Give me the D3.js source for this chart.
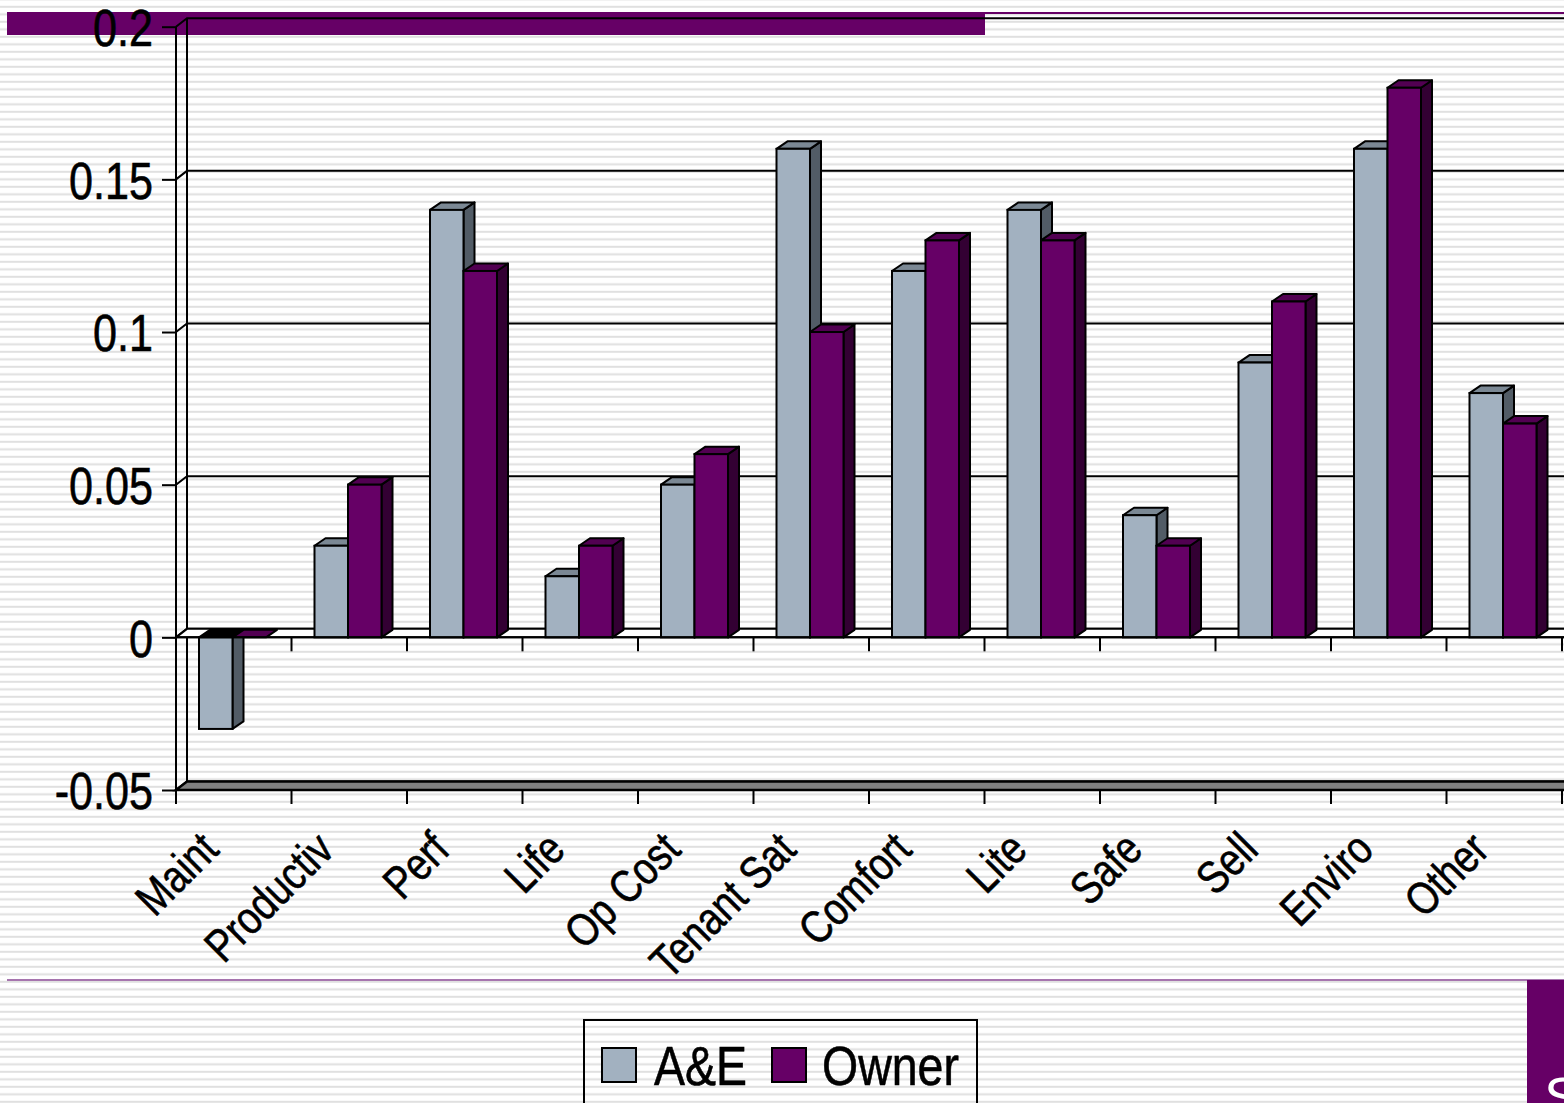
<!DOCTYPE html>
<html>
<head>
<meta charset="utf-8">
<script src="https://cdn.jsdelivr.net/npm/d3@7"></script>
<style>
  html, body { margin: 0; padding: 0; background: #fff; overflow: hidden; }
  svg { display: block; }
  text { font-family: "Liberation Sans", Arial, sans-serif; }
  text.lbl { stroke: #000; stroke-width: 0.6px; }
</style>
</head>
<body>
<svg id="chart" width="1564" height="1103"></svg>
<script>
// Weighting of design priorities: architects/engineers vs owners
const categories = ["Maint", "Productiv", "Perf", "Life", "Op Cost", "Tenant Sat",
                    "Comfort", "Lite", "Safe", "Sell", "Enviro", "Other"];
const aeValues    = [-0.03, 0.03, 0.14, 0.02, 0.05, 0.16, 0.12, 0.14, 0.04, 0.09, 0.16, 0.08];
const ownerValues = [0.00, 0.05, 0.12, 0.03, 0.06, 0.10, 0.13, 0.13, 0.03, 0.11, 0.18, 0.07];
const seriesNames = ["A&E", "Owner"];
const yTicks = [-0.05, 0, 0.05, 0.1, 0.15, 0.2];

const W = 1564, H = 1103;
const NARROW = 0.83; // horizontal squeeze giving a condensed face
const svg = d3.select("#chart");

// faint horizontal pinstripes of the slide background
const defs = svg.append("defs");
const pat = defs.append("pattern").attr("id", "stripes")
  .attr("patternUnits", "userSpaceOnUse").attr("width", 20).attr("height", 15)
  .attr("y", 0.8);
pat.append("rect").attr("width", 20).attr("height", 15).attr("fill", "#ffffff");
pat.append("rect").attr("y", 5).attr("width", 20).attr("height", 2).attr("fill", "#e0e0e0");
pat.append("rect").attr("y", 12.5).attr("width", 20).attr("height", 2).attr("fill", "#e0e0e0");
svg.append("rect").attr("width", W).attr("height", H).attr("fill", "url(#stripes)");

// slide decoration
const purple = "#660066";
svg.append("rect").attr("x", 7).attr("y", 12).attr("width", 978).attr("height", 23).attr("fill", purple);
svg.append("rect").attr("x", 985).attr("y", 12).attr("width", W - 985).attr("height", 2).attr("fill", purple);
svg.append("rect").attr("x", 7).attr("y", 979).attr("width", W - 7).attr("height", 2).attr("fill", "#a674ae");
svg.append("rect").attr("x", 1527).attr("y", 980).attr("width", W - 1527).attr("height", H - 980).attr("fill", purple);
svg.append("text").attr("x", 1544).attr("y", 1116).attr("fill", "#fff")
  .attr("font-size", 56).text("S");

// scales (front plane of the 3-D box)
const y = d3.scaleLinear().domain([-0.05, 0.2]).range([790, 26.7]);
const x = d3.scaleBand().domain(categories).range([176, 1562]).padding(0);
const wall = { dx: 11, dy: -8.5 };
const depth = { dx: 11, dy: -7.5 };
const color = {
  "A&E":   { front: "#a2b1c0", top: "#7b8894", side: "#525c66", neg: "#000000" },
  "Owner": { front: "#660066", top: "#520052", side: "#330033", neg: "#000000" }
};
const line = d3.line();
const g = svg.append("g");

// back-wall gridlines with their diagonals to the front axis
yTicks.forEach(t => {
  const yf = y(t);
  g.append("path").attr("d", line([[x.range()[0], yf], [x.range()[0] + wall.dx, yf + wall.dy], [W + 5, yf + wall.dy]]))
    .attr("fill", "none").attr("stroke", "#000").attr("stroke-width", 2);
});
// back-left wall edge
g.append("line").attr("x1", 176 + wall.dx).attr("x2", 176 + wall.dx)
  .attr("y1", y(0.2) + wall.dy).attr("y2", y(-0.05) + wall.dy)
  .attr("stroke", "#000").attr("stroke-width", 2);

// floor slab at the bottom of the value range
const yfF = y(-0.05);
g.append("path").attr("d", line([[176, yfF], [176 + wall.dx, yfF + wall.dy], [W + 5, yfF + wall.dy], [W + 5, yfF]]) + "Z")
  .attr("fill", "#808080").attr("stroke", "#000").attr("stroke-width", 2.5);

// zero plane (category axis)
const y0 = y(0);
g.append("path").attr("d", line([[176, y0], [176 + wall.dx, y0 + wall.dy], [W + 5, y0 + wall.dy], [W + 5, y0]]) + "Z")
  .attr("fill", "#ffffff").attr("stroke", "#000").attr("stroke-width", 2);

// 3-D columns
const barW = 33.5, barOff = 23;
const rows = [];
categories.forEach((c, ci) => {
  [aeValues[ci], ownerValues[ci]].forEach((v, si) => rows.push({ c, v, s: seriesNames[si], si }));
});
const bars = g.selectAll("g.bar").data(rows).join("g").attr("class", "bar");
bars.each(function (d) {
  const sel = d3.select(this);
  const col = color[d.s];
  const x0 = x(d.c) + barOff + d.si * barW, x1 = x0 + barW;
  const yT = y(Math.max(d.v, 0)), yB = y(Math.min(d.v, 0));
  const sw = 2;
  if (yB - yT > 0.5) {
    sel.append("path").attr("d", line([[x1, yT], [x1 + depth.dx, yT + depth.dy], [x1 + depth.dx, yB + depth.dy], [x1, yB]]) + "Z")
      .attr("fill", col.side).attr("stroke", "#000").attr("stroke-width", sw).attr("stroke-linejoin", "round");
  }
  sel.append("path").attr("d", line([[x0, yT], [x0 + depth.dx, yT + depth.dy], [x1 + depth.dx, yT + depth.dy], [x1, yT]]) + "Z")
    .attr("fill", d.v < 0 ? col.neg : col.top).attr("stroke", "#000").attr("stroke-width", sw).attr("stroke-linejoin", "round");
  if (yB - yT > 0.5) {
    sel.append("rect").attr("x", x0).attr("y", yT).attr("width", barW).attr("height", yB - yT)
      .attr("fill", col.front).attr("stroke", "#000").attr("stroke-width", sw);
  }
});

// front edge of the zero plane and category ticks
g.append("line").attr("x1", 176).attr("x2", W + 5).attr("y1", y0).attr("y2", y0)
  .attr("stroke", "#000").attr("stroke-width", 2);
const bounds = categories.map(c => x(c)).concat([x.range()[1]]);
[y0, yfF].forEach(yy => {
  g.selectAll(null).data(bounds).join("line")
    .attr("x1", d => d).attr("x2", d => d).attr("y1", yy).attr("y2", yy + 14)
    .attr("stroke", "#000").attr("stroke-width", 2);
});

// value axis
const yAxis = d3.axisLeft(y).tickValues(yTicks).tickSize(14).tickPadding(9)
  .tickFormat(d => String(d));
const ax = svg.append("g").attr("transform", "translate(176,0)").call(yAxis);
ax.select(".domain").attr("stroke", "#000").attr("stroke-width", 2)
  .attr("d", `M0,${y(0.2)}V${y(-0.05)}`);
ax.selectAll(".tick line").attr("stroke", "#000").attr("stroke-width", 2);
ax.selectAll(".tick text").attr("class", "lbl").attr("font-size", 52).attr("fill", "#000")
  .attr("font-family", "Liberation Sans, Arial, sans-serif")
  .attr("x", -23 / NARROW)
  .attr("transform", `scale(${NARROW},1)`)
  .attr("dy", "0.36em");

// category labels, slanted
svg.append("g").selectAll("text").data(categories).join("text")
  .attr("class", "lbl")
  .attr("transform", c => `translate(${x(c) + x.bandwidth() / 2 - 13},852) rotate(-45) scale(${NARROW},1)`)
  .attr("text-anchor", "end").attr("font-size", 46).attr("fill", "#000")
  .text(c => c);

// legend
const lg = svg.append("g");
lg.append("rect").attr("x", 584).attr("y", 1020).attr("width", 393).attr("height", 120)
  .attr("fill", "none").attr("stroke", "#000").attr("stroke-width", 2);
const legendItems = [
  { name: seriesNames[0], sx: 602, tx: 654 },
  { name: seriesNames[1], sx: 772, tx: 822 }
];
legendItems.forEach(it => {
  lg.append("rect").attr("x", it.sx).attr("y", 1048).attr("width", 34).attr("height", 34)
    .attr("fill", color[it.name].front).attr("stroke", "#000").attr("stroke-width", 2);
  lg.append("text").attr("class", "lbl").attr("transform", `translate(${it.tx},1085) scale(${NARROW},1)`)
    .attr("font-size", 56).attr("fill", "#000").text(it.name);
});
</script>
</body>
</html>
